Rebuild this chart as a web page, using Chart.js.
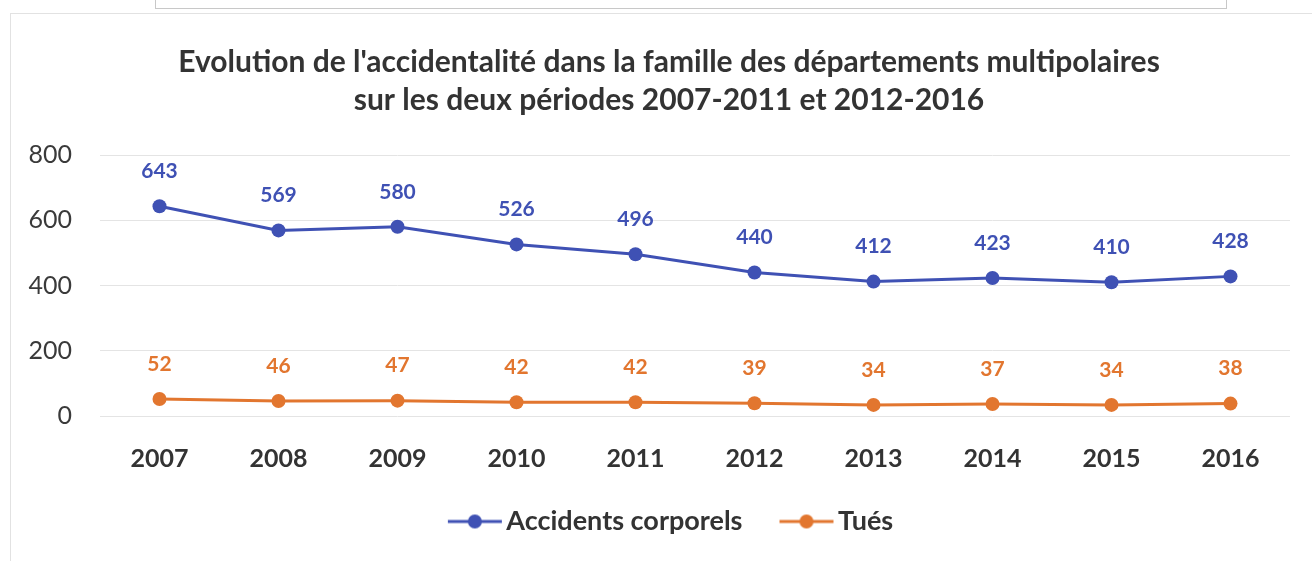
<!DOCTYPE html>
<html>
<head>
<meta charset="utf-8">
<script src="https://cdn.jsdelivr.net/npm/chart.js@4.4.0/dist/chart.umd.min.js"></script>
<style>
  html, body { margin: 0; padding: 0; background: #ffffff; }
  #wrap { position: relative; width: 1312px; height: 561px; overflow: hidden; }
  #topbox { position: absolute; left: 155px; top: -10px; width: 1070px; height: 17px; border: 1px solid #c8c8c8; background: #fff; }
  #frame { position: absolute; left: 10px; top: 13px; width: 1320px; height: 560px; border-left: 1px solid #e2e2e2; border-top: 1px solid #e2e2e2; }
  canvas { position: absolute; left: 0; top: 0; }
</style>
</head>
<body>
<div id="wrap">
  <div id="topbox"></div>
  <div id="frame"></div>
  <canvas id="c" width="1312" height="561"></canvas>
</div>
<script>
const categories = ["2007", "2008", "2009", "2010", "2011", "2012", "2013", "2014", "2015", "2016"];
const accidents = [643, 569, 580, 526, 496, 440, 412, 423, 410, 428];
const tues = [52, 46, 47, 42, 42, 39, 34, 37, 34, 38];
const yTicks = [0, 200, 400, 600, 800];
const titleLines = ["Evolution de l'accidentalité dans la famille des départements multipolaires", "sur les deux périodes 2007-2011 et 2012-2016"];

const BLUE = '#3f51b4';
const ORANGE = '#e2762f';
const FONT = 'Lato, "Open Sans", sans-serif';

// legend icon: transparent lead-in, then a line with a dot in its middle
const ICON_W = 72;      // pointStyleWidth
const LINE_LEN = 54;
function legendIcon(color) {
  const L1 = ICON_W + 9, L0 = L1 - LINE_LEN;   // relative to item start
  const cx = ICON_W / 2;
  const half = Math.ceil(Math.max(L1 - cx, cx - L0)) + 2;
  const cv = document.createElement('canvas');
  cv.width = half * 2; cv.height = 18;
  const off = half - cx;
  const g = cv.getContext('2d');
  g.strokeStyle = color; g.lineWidth = 3;
  g.beginPath(); g.moveTo(L0 + off, 9); g.lineTo(L1 + off, 9); g.stroke();
  g.fillStyle = color;
  g.beginPath(); g.arc((L0 + L1) / 2 + off, 9, 7, 0, Math.PI * 2); g.fill();
  return cv;
}

const dataLabels = {
  id: 'dataLabels',
  afterDatasetsDraw(chart) {
    const ctx = chart.ctx;
    ctx.save();
    ctx.font = 'bold 21px ' + FONT;
    ctx.textAlign = 'center';
    ctx.textBaseline = 'middle';
    chart.data.datasets.forEach((ds, i) => {
      const meta = chart.getDatasetMeta(i);
      ctx.fillStyle = ds.borderColor;
      meta.data.forEach((pt, j) => {
        ctx.fillText(String(ds.data[j]), pt.x, pt.y - 35);
      });
    });
    ctx.restore();
  }
};

// nudge title and legend blocks horizontally to match the reference composition
const boxShift = {
  id: 'boxShift',
  afterLayout(chart) {
    if (chart.titleBlock) { chart.titleBlock.left += 24; chart.titleBlock.right += 24; }
    if (chart.legend) { chart.legend.left += 12; chart.legend.right += 12; }
  }
};

new Chart(document.getElementById('c'), {
  type: 'line',
  data: {
    labels: categories,
    datasets: [
      { label: 'Accidents corporels', data: accidents, borderColor: BLUE, backgroundColor: BLUE,
        borderWidth: 3, pointStyle: 'circle', pointRadius: 7, pointHoverRadius: 7, pointBackgroundColor: BLUE, pointBorderWidth: 0,
        tension: 0 },
      { label: 'Tués', data: tues, borderColor: ORANGE, backgroundColor: ORANGE,
        borderWidth: 3, pointStyle: 'circle', pointRadius: 7, pointHoverRadius: 7, pointBackgroundColor: ORANGE, pointBorderWidth: 0,
        tension: 0 }
    ]
  },
  options: {
    responsive: false,
    animation: false,
    layout: { padding: { left: 0, right: 22, top: 0, bottom: 16 } },
    plugins: {
      tooltip: { enabled: false },
      title: {
        display: true,
        text: titleLines,
        color: '#333333',
        font: { family: FONT, size: 30, weight: 'bold', lineHeight: 1.267 },
        padding: { top: 43, bottom: 36 }
      },
      legend: {
        display: true,
        position: 'bottom',
        labels: {
          usePointStyle: true,
          pointStyleWidth: ICON_W,
          color: '#333333',
          font: { family: FONT, size: 27, weight: 'bold' },
          padding: 10,
          generateLabels(chart) {
            return chart.data.datasets.map((ds, i) => ({
              text: ds.label, fillStyle: ds.borderColor, strokeStyle: ds.borderColor,
              lineWidth: 0, pointStyle: legendIcon(ds.borderColor), datasetIndex: i, hidden: false,
              fontColor: '#333333'
            }));
          }
        }
      }
    },
    scales: {
      x: {
        offset: true,
        grid: { display: false, drawTicks: false },
        border: { display: false },
        ticks: { color: '#333333', font: { family: FONT, size: 25, weight: 'bold' }, padding: 28, maxRotation: 0 },
        afterFit(scale) { scale.height = 82; }
      },
      y: {
        min: 0, max: 800,
        afterBuildTicks(scale) { scale.ticks = yTicks.map(v => ({ value: v })); },
        grid: { color: '#e4e4e4', lineWidth: 1, drawTicks: false },
        border: { display: false },
        ticks: { color: '#3a3a3a', font: { family: FONT, size: 25 }, padding: 28 },
        afterFit(scale) { scale.width = 100; }
      }
    }
  },
  plugins: [dataLabels, boxShift]
});
</script>
</body>
</html>
